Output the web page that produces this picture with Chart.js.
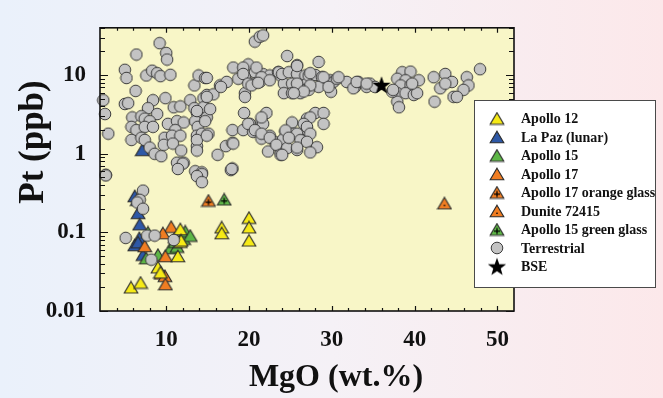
<!DOCTYPE html>
<html>
<head>
<meta charset="utf-8">
<script src="https://cdn.jsdelivr.net/npm/chart.js@4.4.0/dist/chart.umd.min.js"></script>
<style>
  html, body { margin: 0; padding: 0; }
  body {
    width: 663px;
    height: 398px;
    background: linear-gradient(to right, #eaf1fb 0%, #f5f1f6 50%, #fce8ea 100%);
  }
  canvas { display: block; }
</style>
</head>
<body>
<canvas id="graficoPt" width="663" height="398"></canvas>
<script>
// MgO (wt.%) x Pt (ppb)
const apollo12 = [[5.75,0.020],[6.9,0.023],[9.0,0.036],[9.3,0.031],[11.7,0.11],[11.7,0.076],[11.8,0.079],[11.4,0.05],[16.7,0.116],[16.7,0.098],[20.0,0.154],[20.0,0.116],[20.0,0.079]];
const laPaz = [[7.1,1.12],[6.2,0.29],[6.5,0.26],[6.6,0.177],[6.8,0.127],[6.75,0.085],[6.2,0.069],[6.6,0.075],[7.2,0.052]];
const apollo15 = [[7.8,0.1],[9.0,0.052],[7.6,0.047],[10.5,0.063],[11.3,0.066],[11.1,0.076],[11.1,0.087],[12.1,0.083],[12.3,0.103],[12.9,0.091]];
const apollo17 = [[10.6,0.118],[9.6,0.098],[7.4,0.067],[9.9,0.050],[9.4,0.030],[9.85,0.028],[9.9,0.022]];
const apollo17Vidro = [[15.1,0.254]];
const dunito = [[43.6,0.235]];
const apollo15Vidro = [[17.0,0.263]];
const bse = [[36.0,7.5]];

const terrestre = [
  [9.2,25.5],[10.0,19.1],[10.1,15.8],[6.4,18.3],[5.0,11.7],[5.2,9.2],[7.6,9.9],[8.3,11.4],[8.9,10.6],[9.3,9.7],[10.5,10.1],[6.3,6.3],
  [2.4,4.8],[2.6,3.2],[3.0,1.8],[5.0,4.3],[5.4,4.4],[8.4,4.8],[9.9,5.1],[7.8,3.8],[8.9,3.2],[5.9,2.9],[7.0,3.0],[7.4,2.8],[8.0,2.6],
  [5.8,2.2],[6.4,2.0],[7.4,2.2],[8.4,2.2],[5.8,1.5],[7.0,1.6],[7.4,1.5],[8.0,1.2],[8.6,1.0],[9.4,0.93],[2.7,0.54],
  [10.9,3.9],[11.7,4.0],[12.9,4.8],[10.2,2.4],[11.3,2.6],[12.1,2.5],[11.1,2.0],[9.8,1.6],[10.7,1.7],[11.7,1.7],[9.7,1.3],[10.8,1.35],
  [11.8,1.1],[11.3,0.77],[12.1,0.77],[13.5,0.6],[13.7,3.3],[13.5,2.6],[13.8,2.2],[13.7,1.7],[13.4,3.8],[13.7,1.25],[13.4,7.4],[13.9,9.9],
  [14.5,5.1],[14.3,0.58],[14.7,9.2],[16.5,7.4],[17.3,8.2],[18.1,12.5],[20.7,26.7],[21.3,30.8],[21.7,32],[19.9,13.7],[20.7,10.9],[19.5,9.4],
  [18.7,9.0],[20.5,7.8],[21.3,8.2],[21.7,10.3],[22.5,9.9],[23.5,10.9],[23.8,9.9],[24.2,7.8],[24.6,17.5],[19.5,5.9],[19.5,5.3],[24.2,5.9],
  [14.9,5.6],[15.7,5.7],[14.5,3.9],[13.7,3.5],[14.9,2.9],[14.3,1.8],[15.1,1.8],[13.7,1.5],[13.7,1.1],[16.2,0.97],[17.2,1.25],[18.0,1.38],
  [18.0,2.0],[19.3,2.0],[20.1,2.4],[20.5,1.9],[21.5,2.6],[21.7,2.4],[22.1,3.3],[19.4,3.3],[22.5,1.7],[21.5,1.56],[23.2,1.4],[24.1,1.23],
  [22.3,1.07],[23.8,1.04],[24.4,1.9],[18.0,0.65],[12.0,0.75],[19.3,12.5],[20.9,12.5],[19.3,10.35],[21.5,9.4],[23.6,10.9],[24.0,10.35],
  [24.8,10.9],[25.8,13.4],[25.8,10.35],[26.8,9.9],[19.9,7.8],[20.3,7.4],[21.1,8.0],[22.5,8.6],[25.2,7.8],[26.2,7.4],[27.0,7.8],[16.6,7.1],
  [25.2,5.9],[26.2,5.9],[26.6,6.5],[14.9,9.2],[14.9,5.3],[15.3,3.7],[14.7,2.6],[14.9,1.7],[21.5,2.9],[19.9,2.4],[20.7,2.0],[21.5,1.8],
  [22.5,1.6],[25.2,2.5],[25.4,1.8],[26.2,1.7],[27.0,2.0],[27.0,2.8],[24.1,1.52],[23.3,1.3],[24.6,1.18],[25.8,1.12],[23.8,0.97],[18.1,1.35],
  [17.8,0.62],[14.3,0.55],[28.4,14.7],[25.8,13.1],[27.2,9.9],[28.0,10.05],[28.8,9.4],[28.4,7.1],[27.2,6.5],[29.8,8.6],[30.2,8.2],[30.6,9.0],
  [29.9,6.15],[31.8,8.2],[32.8,7.1],[33.2,8.2],[32.6,6.8],[34.6,7.8],[34.2,7.1],[35.2,7.1],[27.4,10.6],[29.0,9.4],[30.8,9.4],[33.0,8.2],
  [34.2,7.8],[25.8,7.8],[27.4,7.4],[29.6,7.1],[26.6,6.2],[25.4,5.9],[38.5,10.9],[39.5,11.1],[37.9,9.0],[38.9,8.6],[40.5,8.6],[38.3,7.4],
  [39.5,7.4],[37.9,5.9],[38.9,5.9],[39.9,5.6],[40.3,5.9],[37.9,4.6],[38.1,3.9],[37.3,6.15],[37.4,6.5],[39.7,7.8],[42.3,9.4],[43.7,10.35],
  [43.1,6.8],[44.5,8.2],[43.7,7.8],[42.4,4.6],[46.3,9.4],[46.5,7.4],[45.9,6.5],[44.7,5.3],[45.1,5.3],[47.9,11.9],[28.0,3.3],[29.0,3.3],
  [27.4,2.9],[29.0,2.4],[26.6,2.4],[27.0,2.2],[24.4,1.98],[25.8,1.8],[27.4,1.8],[26.2,1.49],[27.0,1.42],[24.8,1.6],[25.8,1.2],[28.2,1.21],
  [27.4,1.04],[24.0,0.97],[2.7,0.53],[11.4,0.64],[13.7,0.52],[14.3,0.435],[17.9,0.64],[7.2,0.34],[6.8,0.26],[6.5,0.24],[7.2,0.2],
  [5.1,0.085],[7.7,0.091],[8.6,0.091],[10.9,0.08],[8.2,0.045]
];

const eixoX = { min: 2, max: 52, passo: 2, rotulos: [10, 20, 30, 40, 50], titulo: "MgO (wt.%)" };
const eixoY = { min: 0.01, max: 40, rotulos: [0.01, 0.1, 1, 10], titulo: "Pt (ppb)" };

const fonteSerif = '"Liberation Serif", "Times New Roman", serif';

// marcadores desenhados em canvas pequenos (usados no grafico e na legenda)
function marcadorCirculo(cor){
    const c = document.createElement("canvas");
    c.width = 14; c.height = 14;
    const g = c.getContext("2d");
    g.beginPath();
    g.arc(7, 7, 5.8, 0, Math.PI * 2);
    g.fillStyle = cor;
    g.fill();
    g.lineWidth = 1;
    g.strokeStyle = "#3c3c3c";
    g.stroke();
    return c;
}

function marcadorTriangulo(cor, sinal){
    const c = document.createElement("canvas");
    c.width = 16; c.height = 14;
    const g = c.getContext("2d");
    g.beginPath();
    g.moveTo(8, 1.2);
    g.lineTo(14.8, 12.8);
    g.lineTo(1.2, 12.8);
    g.closePath();
    g.fillStyle = cor;
    g.fill();
    g.lineWidth = 1.1;
    g.strokeStyle = "#2b2b2b";
    g.stroke();
    g.fillStyle = "#000";
    g.strokeStyle = "#000";
    if(sinal === "+"){
        g.lineWidth = 1.3;
        g.beginPath();
        g.moveTo(8, 5.6); g.lineTo(8, 11.6);
        g.moveTo(5, 8.6); g.lineTo(11, 8.6);
        g.stroke();
    }
    if(sinal === "."){
        g.fillRect(7.3, 8.6, 1.4, 1.4);
    }
    return c;
}

function marcadorEstrela(){
    const c = document.createElement("canvas");
    c.width = 20; c.height = 20;
    const g = c.getContext("2d");
    g.beginPath();
    for(let i = 0; i < 10; i++){
        const r = i % 2 === 0 ? 9.6 : 3.9;
        const a = -Math.PI / 2 + i * Math.PI / 5;
        const px = 10 + r * Math.cos(a);
        const py = 10.8 + r * Math.sin(a);
        if(i === 0) g.moveTo(px, py); else g.lineTo(px, py);
    }
    g.closePath();
    g.fillStyle = "#000";
    g.fill();
    return c;
}

const amarelo = "#f6ea16";
const azul = "#2e58a6";
const verde = "#5db646";
const laranja = "#f07d22";
const cinza = "#c3c3c3";

function serie(label, pares, marcador){
    return {
        label: label,
        data: pares.map(p => ({ x: p[0], y: p[1] })),
        pointStyle: marcador,
        pointRadius: 6,
        clip: false
    };
}

// a primeira serie fica por cima no desenho
const datasets = [
    serie("BSE", bse, marcadorEstrela()),
    serie("Terrestrial", terrestre, marcadorCirculo(cinza)),
    serie("Apollo 17 orange glass", apollo17Vidro, marcadorTriangulo(laranja, "+")),
    serie("Apollo 15 green glass", apollo15Vidro, marcadorTriangulo(verde, "+")),
    serie("Dunite 72415", dunito, marcadorTriangulo(laranja, ".")),
    serie("Apollo 12", apollo12, marcadorTriangulo(amarelo)),
    serie("Apollo 17", apollo17, marcadorTriangulo(laranja)),
    serie("Apollo 15", apollo15, marcadorTriangulo(verde)),
    serie("La Paz (lunar)", laPaz, marcadorTriangulo(azul))
];

const ordemLegenda = [
    "Apollo 12",
    "La Paz (lunar)",
    "Apollo 15",
    "Apollo 17",
    "Apollo 17 orange glass",
    "Dunite 72415",
    "Apollo 15 green glass",
    "Terrestrial",
    "BSE"
];

function valoresLog(min, max){
    const v = [];
    for(let e = -3; e <= 3; e++){
        for(let m = 1; m <= 9; m++){
            const val = m * Math.pow(10, e);
            if(val >= min * 0.999 && val <= max * 1.001) v.push(val);
        }
    }
    return v;
}

function ehPotencia(v){
    const l = Math.log10(v);
    return Math.abs(l - Math.round(l)) < 1e-6;
}

const moldura = {
    id: "moldura",
    beforeDatasetsDraw(chart){
        const a = chart.chartArea;
        const ctx = chart.ctx;
        ctx.save();
        ctx.fillStyle = "#f8f6c7";
        ctx.fillRect(a.left, a.top, a.right - a.left, a.bottom - a.top);
        ctx.restore();
    },
    afterDatasetsDraw(chart){
        const a = chart.chartArea;
        const ctx = chart.ctx;
        const sx = chart.scales.x;
        const sy = chart.scales.y;
        ctx.save();
        ctx.strokeStyle = "#111";
        ctx.lineWidth = 1.2;
        ctx.beginPath();
        for(let v = eixoX.min + eixoX.passo; v < eixoX.max; v += eixoX.passo){
            const px = Math.round(sx.getPixelForValue(v)) + 0.5;
            const t = v % 10 === 0 ? 5 : 3;
            ctx.moveTo(px, a.bottom); ctx.lineTo(px, a.bottom - t);
            ctx.moveTo(px, a.top); ctx.lineTo(px, a.top + t);
        }
        valoresLog(eixoY.min, eixoY.max).forEach(v => {
            const py = Math.round(sy.getPixelForValue(v)) + 0.5;
            const t = ehPotencia(v) ? 8 : 5;
            ctx.moveTo(a.left, py); ctx.lineTo(a.left + t, py);
            ctx.moveTo(a.right, py); ctx.lineTo(a.right - t, py);
        });
        ctx.stroke();
        ctx.lineWidth = 1.6;
        ctx.strokeRect(a.left, a.top, a.right - a.left, a.bottom - a.top);
        ctx.restore();
    },
    afterDraw(chart){
        const ctx = chart.ctx;
        ctx.save();

        // titulos dos eixos
        ctx.fillStyle = "#111";
        ctx.textAlign = "center";
        ctx.textBaseline = "middle";
        ctx.font = "bold 32px " + fonteSerif;
        ctx.fillText(eixoX.titulo, 336, 378);
        ctx.save();
        ctx.translate(34, 142);
        ctx.rotate(-Math.PI / 2);
        ctx.font = "bold 35px " + fonteSerif;
        ctx.fillText(eixoY.titulo, 0, 0);
        ctx.restore();

        // legenda
        const caixa = { x: 474.5, y: 100.5, w: 181, h: 187 };
        ctx.fillStyle = "#ffffff";
        ctx.fillRect(caixa.x, caixa.y, caixa.w, caixa.h);
        ctx.strokeStyle = "#4a4a4a";
        ctx.lineWidth = 1;
        ctx.strokeRect(caixa.x, caixa.y, caixa.w, caixa.h);
        ctx.font = "bold 14px " + fonteSerif;
        ctx.fillStyle = "#111";
        ctx.textAlign = "left";
        ctx.textBaseline = "middle";
        ordemLegenda.forEach((nome, i) => {
            const ds = chart.data.datasets.find(d => d.label === nome);
            const y = 118.5 + i * 18.5;
            const img = ds.pointStyle;
            ctx.drawImage(img, 497 - img.width / 2, y - img.height / 2);
            ctx.fillText(nome, 521, y + 1);
        });
        ctx.restore();
    }
};

new Chart(document.getElementById("graficoPt"), {
    type: "scatter",
    data: { datasets: datasets },
    options: {
        responsive: false,
        animation: false,
        events: [],
        layout: { padding: { top: 20, right: 149, left: 0, bottom: 0 } },
        plugins: {
            legend: { display: false },
            tooltip: { enabled: false }
        },
        scales: {
            x: {
                type: "linear",
                min: eixoX.min,
                max: eixoX.max,
                afterFit: s => { s.height = 87; },
                grid: { display: false, drawTicks: false },
                border: { display: false },
                ticks: {
                    stepSize: eixoX.passo,
                    autoSkip: false,
                    maxRotation: 0,
                    padding: 15,
                    color: "#111",
                    font: { family: fonteSerif, size: 23, weight: "bold" },
                    callback: v => eixoX.rotulos.includes(v) ? String(v) : ""
                }
            },
            y: {
                type: "logarithmic",
                min: eixoY.min,
                max: eixoY.max,
                afterFit: s => { s.width = 100; },
                grid: { display: false, drawTicks: false },
                border: { display: false },
                ticks: {
                    autoSkip: false,
                    padding: 14,
                    color: "#111",
                    font: { family: fonteSerif, size: 23, weight: "bold" },
                    callback: v => eixoY.rotulos.some(r => Math.abs(r - v) < r * 1e-6) ? String(v) : ""
                }
            }
        }
    },
    plugins: [moldura]
});
</script>
</body>
</html>
